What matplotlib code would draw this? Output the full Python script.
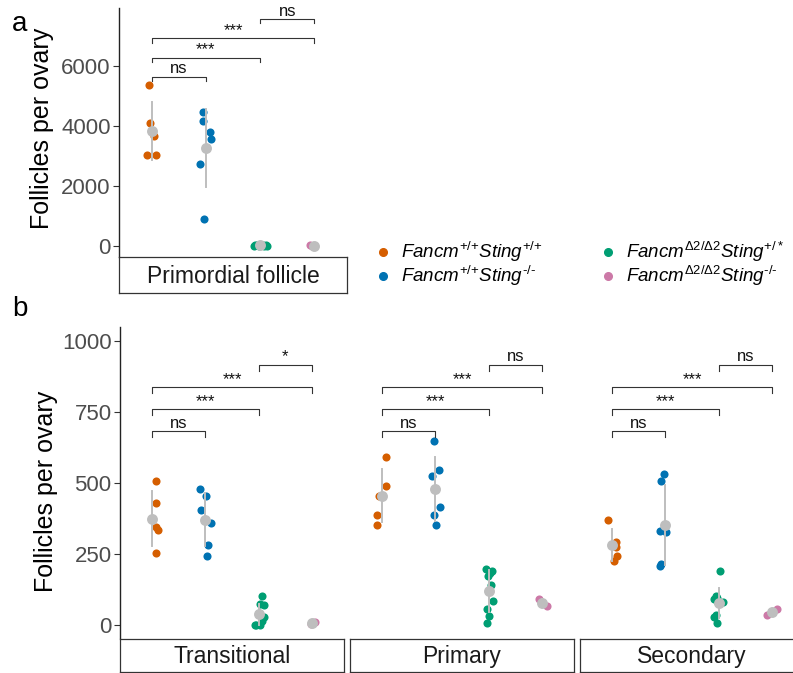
import numpy as np
import matplotlib
matplotlib.use('Agg')
import matplotlib.pyplot as plt
from matplotlib.lines import Line2D

plt.rcParams['font.family'] = ['Liberation Sans', 'DejaVu Sans']
plt.rcParams['mathtext.fontset'] = 'custom'
plt.rcParams['mathtext.rm'] = 'Liberation Sans'
plt.rcParams['mathtext.it'] = 'Liberation Sans:italic'

# genotypes / colours
genotype_labels = ['$\\mathit{Fancm}^{{+}/{+}}\\mathit{Sting}^{{+}/{+}}$',
                   '$\\mathit{Fancm}^{{+}/{+}}\\mathit{Sting}^{\u2010/\u2010}$',
                   '$\\mathit{Fancm}^{\\Delta2/\\Delta2}\\mathit{Sting}^{{+}/*}$',
                   '$\\mathit{Fancm}^{\\Delta2/\\Delta2}\\mathit{Sting}^{\u2010/\u2010}$']
colors = ['#D55E00', '#0072B2', '#009E73', '#CC79A7']
comparisons = [(1, 2), (1, 3), (1, 4), (3, 4)]

# panel a: primordial follicles per ovary
primordial_wt = [5360, 4100, 3660, 3020, 3020]
primordial_sting = [4450, 4160, 3800, 3540, 2710, 890]
primordial_fancm = [35, 20, 12, 8, 5, 3, 0, 0]
primordial_double = [12, 5, 0]
primordial_sig = ['ns', '***', '***', 'ns']

# panel b: growing follicles
transitional_wt = [506, 430, 345, 333, 254]
transitional_sting = [478, 452, 404, 359, 280, 243]
transitional_fancm = [102, 73, 70, 40, 26, 12, 0, 0, 0]
transitional_double = [8, 5, 3]
transitional_sig = ['ns', '***', '***', '*']

primary_wt = [591, 488, 452, 386, 352]
primary_sting = [648, 544, 524, 414, 387, 350]
primary_fancm = [195, 190, 183, 171, 138, 84, 55, 32, 7]
primary_double = [89, 77, 66]
primary_sig = ['ns', '***', '***', 'ns']

secondary_wt = [368, 290, 275, 242, 225]
secondary_sting = [530, 507, 330, 325, 212, 205]
secondary_fancm = [189, 102, 93, 90, 79, 75, 34, 26, 7]
secondary_double = [55, 45, 34]
secondary_sig = ['ns', '***', '***', 'ns']

# horizontal jitter (style only)
jit_prim = [[-0.04, -0.03, 0.05, -0.085, 0.09],
            [-0.06, -0.06, 0.07, 0.10, -0.10, -0.03],
            [-0.10, -0.06, 0.10, 0.05, -0.02, 0.08, -0.12, 0.12],
            [-0.08, -0.04, 0.0]]
jit_trans = [[0.08, 0.07, 0.08, 0.105, 0.07],
             [-0.105, 0.02, -0.09, 0.105, 0.055, 0.03],
             [0.06, 0.03, 0.095, 0.005, 0.105, 0.055, -0.045, 0.02, -0.07],
             [0.05, 0.02, -0.01]]
jit_primary = [[0.08, 0.07, -0.065, -0.09, -0.09],
               [-0.02, 0.07, -0.065, 0.095, -0.02, 0.02],
               [-0.045, 0.055, 0.03, -0.02, 0.05, 0.09, -0.025, 0.015, -0.025],
               [-0.05, 0.0, 0.09]]
jit_second = [[-0.07, 0.07, 0.08, 0.09, 0.04],
              [-0.03, -0.09, -0.10, 0.015, -0.09, -0.10],
              [0.02, -0.055, -0.03, -0.09, 0.075, -0.005, -0.05, -0.08, -0.03],
              [0.10, 0.015, -0.09]]

W, H = 793, 673
fig = plt.figure(figsize=(W / 100, H / 100), dpi=100)


def px_axes(x0, y0, x1, y1):
    return fig.add_axes([x0 / W, 1 - y1 / H, (x1 - x0) / W, (y1 - y0) / H])


def draw_panel(ax, groups, jitters, sigs, levels, tip, ylim, show_y, yticks=None):
    for i, (vals, jit) in enumerate(zip(groups, jitters)):
        vals = np.array(vals, dtype=float)
        xs = i + 1 + np.array(jit)
        ax.scatter(xs, vals, s=34, color=colors[i], lw=0, zorder=2)
        m = vals.mean()
        sd = vals.std(ddof=1)
        ax.plot([i + 1, i + 1], [m - sd, m + sd], color='#BEBEBE', lw=1.4, zorder=3)
        ax.scatter([i + 1], [m], s=62, color='#BEBEBE', lw=0, zorder=4)
    for (a, b), lev, lab in zip(comparisons, levels, sigs):
        ax.plot([a, a, b, b], [lev - tip, lev, lev, lev - tip], color='#333333', lw=0.8)
        ax.text((a + b) / 2, lev + tip * 0.05, lab, ha='center', va='bottom',
                fontsize=12, color='#111111')
    ax.set_xlim(0.4, 4.6)
    ax.set_ylim(*ylim)
    ax.set_xticks([])
    for s in ['top', 'right', 'bottom']:
        ax.spines[s].set_visible(False)
    if show_y:
        ax.spines['left'].set_linewidth(1.0)
        ax.spines['left'].set_color('#222222')
        ax.set_yticks(yticks)
        ax.tick_params(axis='y', labelsize=16, labelcolor='#4D4D4D', color='#333333',
                       length=4, width=0.8, pad=2)
    else:
        ax.spines['left'].set_visible(False)
        ax.set_yticks([])
    ax.patch.set_alpha(0)


def strip(x0, y0, x1, y1, label):
    sax = px_axes(x0, y0, x1, y1)
    sax.set_xticks([])
    sax.set_yticks([])
    for s in sax.spines.values():
        s.set_linewidth(0.9)
        s.set_color('#333333')
    sax.text(0.5, 0.47, label, transform=sax.transAxes, ha='center', va='center',
             fontsize=16.5, color='#1A1A1A')


# panel a
ax_a = px_axes(119, 8, 347, 257)
draw_panel(ax_a, [primordial_wt, primordial_sting, primordial_fancm, primordial_double],
           jit_prim, primordial_sig, [5630, 6263, 6907, 7550], 144, (-376, 7916),
           True, [0, 2000, 4000, 6000])
strip(119, 257, 347, 293, 'Primordial follicle')

# panel b
facets = [
    ('Transitional', [transitional_wt, transitional_sting, transitional_fancm, transitional_double],
     jit_trans, transitional_sig),
    ('Primary', [primary_wt, primary_sting, primary_fancm, primary_double],
     jit_primary, primary_sig),
    ('Secondary', [secondary_wt, secondary_sting, secondary_fancm, secondary_double],
     jit_second, secondary_sig),
]
for k, (name, groups, jits, sigs) in enumerate(facets):
    x0 = 120 + k * 230
    ax = px_axes(x0, 327, x0 + 224, 638)
    draw_panel(ax, groups, jits, sigs, [681, 758, 836, 915], 21, (-47, 1048),
               k == 0, [0, 250, 500, 750, 1000])
    strip(x0, 639, x0 + 224, 672, name)

# y labels and panel letters
fig.text(42 / W, 1 - 128 / H, 'Follicles per ovary', rotation=90, ha='center', va='center',
         fontsize=18)
fig.text(46 / W, 1 - 491 / H, 'Follicles per ovary', rotation=90, ha='center', va='center',
         fontsize=18)
fig.text(12 / W, 1 - 31 / H, 'a', fontsize=20, va='baseline')
fig.text(12 / W, 1 - 316 / H, 'b', fontsize=20, va='baseline')

# legend
leg_pos = [(383, 252), (383, 276), (608, 252), (608, 276)]
for (lx, ly), c, lab in zip(leg_pos, colors, genotype_labels):
    fig.add_artist(Line2D([lx / W], [1 - ly / H], marker='o', ms=5.5, color=c, lw=0,
                          transform=fig.transFigure))
    fig.text((lx + 18) / W, 1 - ly / H, lab, fontsize=13.5, va='center', ha='left')

fig.savefig('out.png', dpi=100)
